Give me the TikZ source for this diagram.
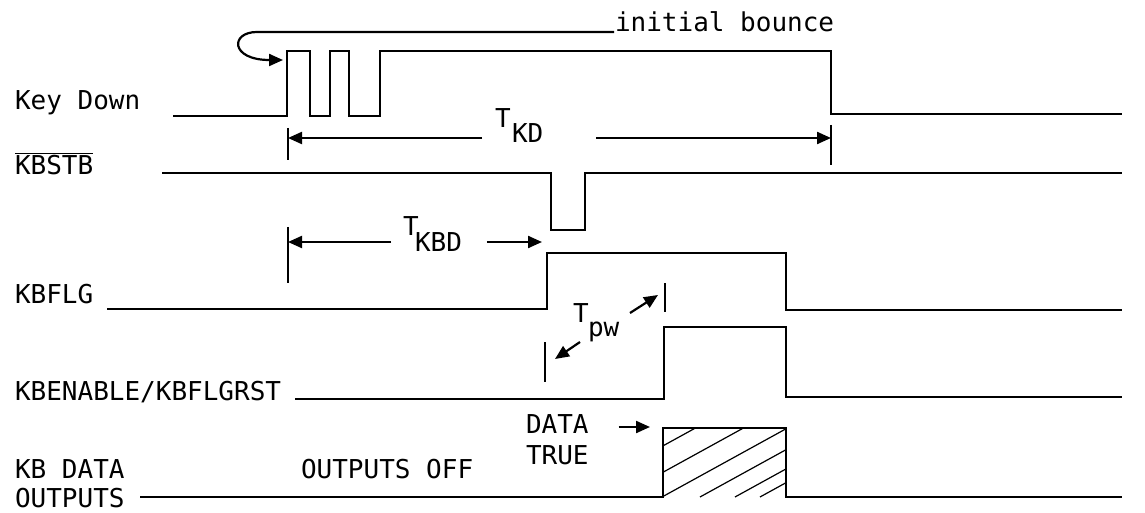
\documentclass[tikz,border=0pt]{standalone}
\usepackage{fontspec}
\setmonofont{DejaVu Sans Mono}
\usetikzlibrary{arrows.meta}

\begin{document}
\begin{tikzpicture}[
    x=0.5pt, y=-0.5pt,
    line width=1pt,
    every node/.style={font=\ttfamily\fontsize{13pt}{15pt}\selectfont, inner sep=0pt, anchor=base west},
    wave/.style={line width=1.1pt, line join=miter},
    tick/.style={line width=0.6pt},
    dim/.style={-{Triangle[length=7pt,width=6pt]}, line width=1.1pt}
]

\useasboundingbox (0,0) rectangle (1145,513);

% Signal names
\node (kd)   at (14,110) {Key Down};
\node (stb)  at (14,175) {$\overline{\hbox{KBSTB}}$};
\node (flg)  at (14,303) {KBFLG};
\node (ena)  at (14,400) {KBENABLE/KBFLGRST};
\node (dat)  at (14,478) {KB DATA};
\node (out)  at (14,507) {OUTPUTS};

% Key Down with contact bounce
\draw[wave] (173,116) -- (287,116) -- (287,51) -- (310,51) -- (310,116) -- (330,116)
    -- (330,51) -- (349,51) -- (349,116) -- (380,116) -- (380,51) -- (831,51)
    -- (831,114) -- (1122,114);

% KBSTB strobe
\draw[wave] (162,173) -- (551,173) -- (551,230) -- (585,230) -- (585,173) -- (1122,173);

% KBFLG
\draw[wave] (107,309) -- (547,309) -- (547,253) -- (786,253) -- (786,310) -- (1122,310);

% KBENABLE/KBFLGRST
\draw[wave] (295,399) -- (664,399) -- (664,327) -- (786,327) -- (786,397) -- (1122,397);

% KB data outputs
\draw[wave] (140,497) -- (663,497) -- (663,428) -- (786,428) -- (786,497) -- (1122,497);
\begin{scope}
    \clip (663,428) rectangle (786,497);
    \foreach \s in {570,618,662,700,735,760} {
        \draw[line width=0.6pt] (\s,497) -- ++(240,-132);
    }
\end{scope}

% initial bounce
\node (bnc) at (614,32) {initial bounce};
\coordinate (rise) at (283,60);
\draw[dim] (bnc.base west) -- (257,32) .. controls (230,32) and (230,60) .. (rise);

% T_KD
\coordinate (kdL) at (288,138);
\coordinate (kdR) at (831,138);
\node (tkd)    at (494,128) {T};
\node (tkdsub) at (511,143) {KD};
\draw[tick] (288,128) -- (288,160);
\draw[tick] (831,125) -- (831,165);
\draw[dim] ([xshift=-6pt]tkd.west |- kdL) -- (kdL);
\draw[dim] ([xshift=26pt]tkdsub.east |- kdR) -- (kdR);

% T_KBD
\coordinate (kbdL) at (288,242);
\coordinate (kbdR) at (542,242);
\node (tkbd)    at (402,235) {T};
\node (tkbdsub) at (414,251) {KBD};
\draw[tick] (288,227) -- (288,283);
\draw[dim] ([xshift=-5.5pt]tkbd.west |- kbdL) -- (kbdL);
\draw[dim] ([xshift=12pt]tkbdsub.east |- kbdR) -- (kbdR);

% T_pw
\coordinate (pwR) at (658,295);
\coordinate (pwL) at (555,359);
\node (tpw)    at (572,322) {T};
\node (tpwsub) at (587,336) {pw};
\draw[tick] (665,283) -- (665,312);
\draw[tick] (545,342) -- (545,382);
\draw[dim] (630,313) -- (pwR);
\draw[dim] (580,342) -- (pwL);

% data true
\node (dt1) at (525,433) {DATA};
\node (dt2) at (525,464) {TRUE};
\coordinate (dtR) at (650,427);
\draw[dim] ([xshift=14.5pt]dt1.east |- dtR) -- (dtR);

\node (off) at (300,478) {OUTPUTS OFF};

\end{tikzpicture}
\end{document}
